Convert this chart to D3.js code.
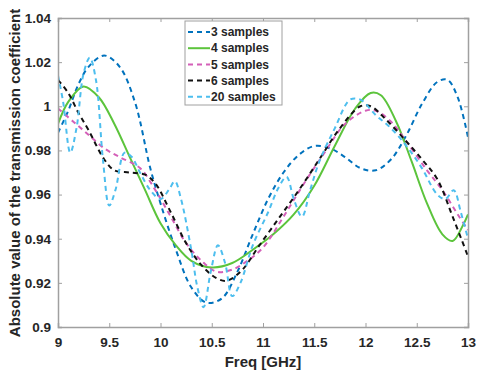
<!DOCTYPE html>
<html>
<head>
<meta charset="utf-8">
<script src="https://cdn.jsdelivr.net/npm/d3@7"></script>
<style>
  body { margin: 0; background: #fff; }
  #chart { width: 477px; height: 378px; }
  text { font-family: "Liberation Sans", Arial, sans-serif; font-weight: bold; fill: #262626; }
</style>
</head>
<body>
<div id="chart"></div>
<script>
// frequencies (GHz) and |S21|
const f3 = [9.0, 9.1, 9.2, 9.3, 9.45, 9.6, 9.75, 9.9, 10.0, 10.15, 10.3, 10.45, 10.6, 10.75, 10.9, 11.05, 11.2, 11.35, 11.5, 11.65, 11.8, 11.95, 12.1, 12.25, 12.4, 12.55, 12.7, 12.8, 12.9, 13.0];
const v3 = [0.988, 0.998, 1.010, 1.018, 1.023, 1.018, 1.002, 0.972, 0.956, 0.935, 0.918, 0.911, 0.913, 0.925, 0.942, 0.958, 0.970, 0.978, 0.982, 0.981, 0.977, 0.972, 0.971, 0.976, 0.987, 1.001, 1.011, 1.012, 1.004, 0.986];

const f4 = [9.0, 9.1, 9.25, 9.4, 9.55, 9.7, 9.85, 10.0, 10.15, 10.3, 10.5, 10.7, 10.9, 11.1, 11.3, 11.5, 11.7, 11.9, 12.05, 12.15, 12.3, 12.45, 12.6, 12.75, 12.85, 12.95, 13.0];
const v4 = [0.992, 1.002, 1.009, 1.004, 0.992, 0.977, 0.962, 0.947, 0.937, 0.930, 0.927, 0.929, 0.935, 0.942, 0.951, 0.964, 0.982, 0.999, 1.006, 1.005, 0.993, 0.975, 0.956, 0.942, 0.939, 0.946, 0.951];

const f5 = [9.0, 9.15, 9.3, 9.45, 9.6, 9.8, 9.95, 10.1, 10.25, 10.4, 10.55, 10.7, 10.85, 11.0, 11.2, 11.4, 11.6, 11.8, 12.0, 12.1, 12.25, 12.4, 12.6, 12.75, 12.9, 13.0];
const v5 = [0.999, 0.993, 0.987, 0.981, 0.977, 0.972, 0.962, 0.950, 0.938, 0.930, 0.925, 0.926, 0.930, 0.936, 0.950, 0.965, 0.979, 0.992, 0.998, 0.998, 0.993, 0.984, 0.971, 0.962, 0.951, 0.944];

const f6 = [9.0, 9.1, 9.2, 9.3, 9.45, 9.55, 9.7, 9.85, 9.95, 10.1, 10.25, 10.4, 10.55, 10.65, 10.8, 10.95, 11.15, 11.35, 11.55, 11.75, 11.95, 12.05, 12.2, 12.4, 12.55, 12.7, 12.85, 13.0];
const v6 = [1.012, 1.006, 0.997, 0.989, 0.976, 0.971, 0.970, 0.969, 0.965, 0.952, 0.938, 0.928, 0.922, 0.921, 0.926, 0.936, 0.949, 0.962, 0.976, 0.990, 1.000, 1.000, 0.994, 0.984, 0.976, 0.967, 0.950, 0.932];

const f20 = [9.0, 9.05, 9.12, 9.18, 9.25, 9.31, 9.37, 9.44, 9.5, 9.56, 9.65, 9.72, 9.8, 9.9, 10.0, 10.08, 10.14, 10.2, 10.3, 10.36, 10.42, 10.49, 10.56, 10.63, 10.7, 10.78, 10.9, 11.05, 11.15, 11.23, 11.3, 11.38, 11.46, 11.55, 11.7, 11.85, 11.95, 12.1, 12.25, 12.4, 12.55, 12.7, 12.78, 12.86, 12.93, 13.0];
const v20 = [1.014, 1.002, 0.979, 0.990, 1.015, 1.022, 1.012, 0.975, 0.955, 0.962, 0.979, 0.977, 0.970, 0.962, 0.958, 0.962, 0.966, 0.958, 0.935, 0.918, 0.909, 0.925, 0.937, 0.929, 0.914, 0.920, 0.937, 0.952, 0.963, 0.968, 0.958, 0.950, 0.962, 0.975, 0.990, 1.003, 1.003, 0.996, 0.990, 0.982, 0.972, 0.960, 0.958, 0.962, 0.952, 0.940];

const seriesNames = ["3 samples", "4 samples", "5 samples", "6 samples", "20 samples"];
const seriesColors = ["#0072BD", "#5cc43c", "#d45fb8", "#111111", "#4DBEEE"];
const seriesDashed = [true, false, true, true, true];

const xTicks = [9, 9.5, 10, 10.5, 11, 11.5, 12, 12.5, 13];
const yTicks = [0.9, 0.92, 0.94, 0.96, 0.98, 1, 1.02, 1.04];

const series = [
    {freq: f3, vals: v3},
    {freq: f4, vals: v4},
    {freq: f5, vals: v5},
    {freq: f6, vals: v6},
    {freq: f20, vals: v20}
].map(function(s, i) {
    return {
        name: seriesNames[i],
        color: seriesColors[i],
        dashed: seriesDashed[i],
        points: s.freq.map(function(f, j) { return {f: f, v: s.vals[j]}; })
    };
});

/*
SVG
*/
const width = 477;
const height = 378;
const margin = {top: 18, left: 58, right: 9, bottom: 51};

const svg = d3.select("#chart")
    .append("svg")
    .attr("width", width)
    .attr("height", height);

/*
SCALES
*/
const xScale = d3.scaleLinear()
    .domain([9, 13])
    .range([margin.left, width - margin.right]);

const yScale = d3.scaleLinear()
    .domain([0.9, 1.04])
    .range([height - margin.bottom, margin.top]);

/*
CLIP + LINES
*/
svg.append("clipPath")
    .attr("id", "plotClip")
    .append("rect")
    .attr("x", margin.left)
    .attr("y", margin.top)
    .attr("width", width - margin.left - margin.right)
    .attr("height", height - margin.top - margin.bottom);

const line = d3.line()
    .x(function(d) { return xScale(d.f); })
    .y(function(d) { return yScale(d.v); })
    .curve(d3.curveCatmullRom.alpha(0.5));

svg.append("g")
    .attr("clip-path", "url(#plotClip)")
    .selectAll("path")
    .data(series)
    .enter()
    .append("path")
        .attr("d", function(d) { return line(d.points); })
        .attr("fill", "none")
        .attr("stroke", function(d) { return d.color; })
        .attr("stroke-width", 2)
        .attr("stroke-dasharray", function(d) { return d.dashed ? "5,4" : null; });

/*
AXES (matlab style box, ticks inward)
*/
const tickLen = 4;
const axisColor = "#a0a0a0";

const xAxis = svg.append("g")
    .attr("transform", `translate(0,${height - margin.bottom})`)
    .call(d3.axisBottom(xScale).tickValues(xTicks).tickSize(-tickLen).tickPadding(10).tickFormat(d3.format("")));

const yAxis = svg.append("g")
    .attr("transform", `translate(${margin.left},0)`)
    .call(d3.axisLeft(yScale).tickValues(yTicks).tickSize(-tickLen).tickPadding(7).tickFormat(d3.format("")));

const xTop = svg.append("g")
    .attr("transform", `translate(0,${margin.top})`)
    .call(d3.axisTop(xScale).tickValues(xTicks).tickSize(-tickLen).tickFormat(""));

const yRight = svg.append("g")
    .attr("transform", `translate(${width - margin.right},0)`)
    .call(d3.axisRight(yScale).tickValues(yTicks).tickSize(-tickLen).tickFormat(""));

[xAxis, yAxis, xTop, yRight].forEach(function(a) {
    a.select(".domain").attr("stroke", axisColor).attr("stroke-width", 1.5);
    a.selectAll(".tick line").attr("stroke", axisColor).attr("stroke-width", 1);
    a.selectAll(".tick text")
        .attr("fill", "#262626")
        .style("font-size", "13.5px")
        .style("font-family", "'Liberation Sans', Arial, sans-serif")
        .style("font-weight", "bold");
});

/*
AXIS LABELS
*/
svg.append("text")
    .attr("x", (margin.left + width - margin.right) / 2 + 0)
    .attr("y", 367)
    .attr("text-anchor", "middle")
    .style("font-size", "15px")
    .text("Freq [GHz]");

svg.append("text")
    .attr("transform", "rotate(-90)")
    .attr("x", -173)
    .attr("y", 20)
    .attr("text-anchor", "middle")
    .style("font-size", "15px")
    .text("Absolute value of the transmission coefficient");

/*
LEGEND
*/
const legend = svg.append("g")
    .attr("transform", "translate(185,21)");

legend.append("rect")
    .attr("width", 97)
    .attr("height", 84)
    .attr("fill", "#fff")
    .attr("stroke", "#a0a0a0")
    .attr("stroke-width", 1);

const entries = legend.selectAll(".entry")
    .data(series)
    .enter()
    .append("g")
    .attr("class", "entry")
    .attr("transform", function(d, i) { return `translate(0,${11 + i * 16.2})`; });

entries.append("line")
    .attr("x1", 3)
    .attr("x2", 25)
    .attr("stroke", function(d) { return d.color; })
    .attr("stroke-width", 2)
    .attr("stroke-dasharray", function(d) { return d.dashed ? "5,4" : null; });

entries.append("text")
    .attr("x", 26)
    .attr("dy", "0.35em")
    .style("font-size", "12px")
    .text(function(d) { return d.name; });
</script>
</body>
</html>
